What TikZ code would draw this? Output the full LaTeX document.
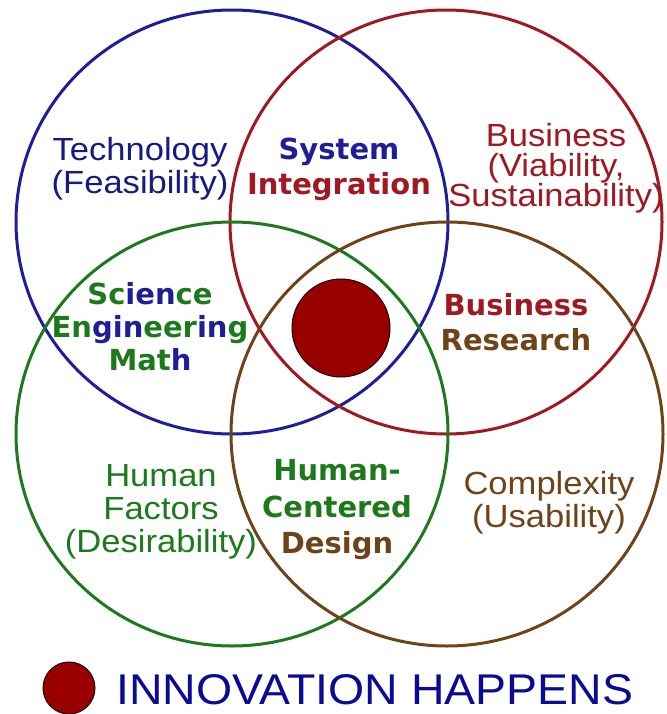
\documentclass[tikz,border=0pt]{standalone}
\usepackage{fontspec}
\setmainfont{Liberation Sans}[FakeStretch = 1.08]
\newfontfamily\comicfont{DejaVu Sans}
\usepackage{tikz}
\definecolor{ringblue}{RGB}{30,30,155}
\definecolor{ringred}{RGB}{160,24,34}
\definecolor{ringgreen}{RGB}{28,122,28}
\definecolor{ringbrown}{RGB}{110,67,23}
\definecolor{dotred}{RGB}{153,0,0}
\definecolor{legendblue}{RGB}{10,10,150}
\newcommand{\gr}[1]{\textcolor{ringgreen}{#1}}
\newcommand{\bl}[1]{\textcolor{ringblue}{#1}}

\begin{document}
\begin{tikzpicture}[x = 1pt, y = -1pt]
\tikzstyle{ring}=[
line width = 3pt]
\tikzstyle{plain}=[
align = center,
inner sep = 0pt,
font = \fontsize{32}{33}\selectfont]
\tikzstyle{comic}=[
align = center,
inner sep = 0pt,
font = \comicfont\bfseries\fontsize{29}{35}\selectfont]
\tikzstyle{dot}=[
fill = dotred,
draw = black!80!dotred,
line width = 1pt]
\useasboundingbox (0,0) rectangle (666,714);
\draw[ring, ringblue] (232,222) ellipse [x radius = 216, y radius = 212];
\draw[ring, ringred] (446,222) ellipse [x radius = 216, y radius = 212];
\draw[ring, ringgreen] (232,434) ellipse [x radius = 216, y radius = 212];
\draw[ring, ringbrown] (447,434) ellipse [x radius = 216, y radius = 212];
\draw[dot] (341,328) circle (49);
\node[plain, text = ringblue!85!black] (tech) at (140,168.5) {Technology\\(Feasibility)};
\node[plain, text = ringred, font = \fontsize{32}{30}\selectfont] (biz) at (556,168) {Business\\(Viability,\\Sustainability)};
\node[plain, text = ringgreen] (human) at (161,512) {Human\\Factors\\(Desirability)};
\node[plain, text = ringbrown] (cplx) at (549,503) {Complexity\\(Usability)};
\node[comic] (sysint) at (339,169.5) {\textcolor{ringblue}{System}\\\textcolor{ringred}{Integration}};
\node[comic, font = \comicfont\bfseries\fontsize{29}{33}\selectfont] (sem) at (150,326.5) {\gr{Sc}\bl{ien}\gr{ce}\\\gr{En}\bl{gin}\gr{eer}\bl{in}\gr{g}\\\gr{Mat}\bl{h}};
\node[comic] (bizres) at (516,322.5) {\textcolor{ringred}{Business}\\\textcolor{ringbrown}{Research}};
\node[comic, font = \comicfont\bfseries\fontsize{29}{36.5}\selectfont] (hcd) at (337,510) {\gr{Human-}\\\gr{Centered}\\\textcolor{ringbrown}{Design}};
\draw[dot] (69,688) circle (26);
\node[anchor = base west, inner sep = 0pt, text = legendblue, font = \fontsize{43}{43}\selectfont] (happens) at (116,704) {INNOVATION HAPPENS};
\end{tikzpicture}
\end{document}
